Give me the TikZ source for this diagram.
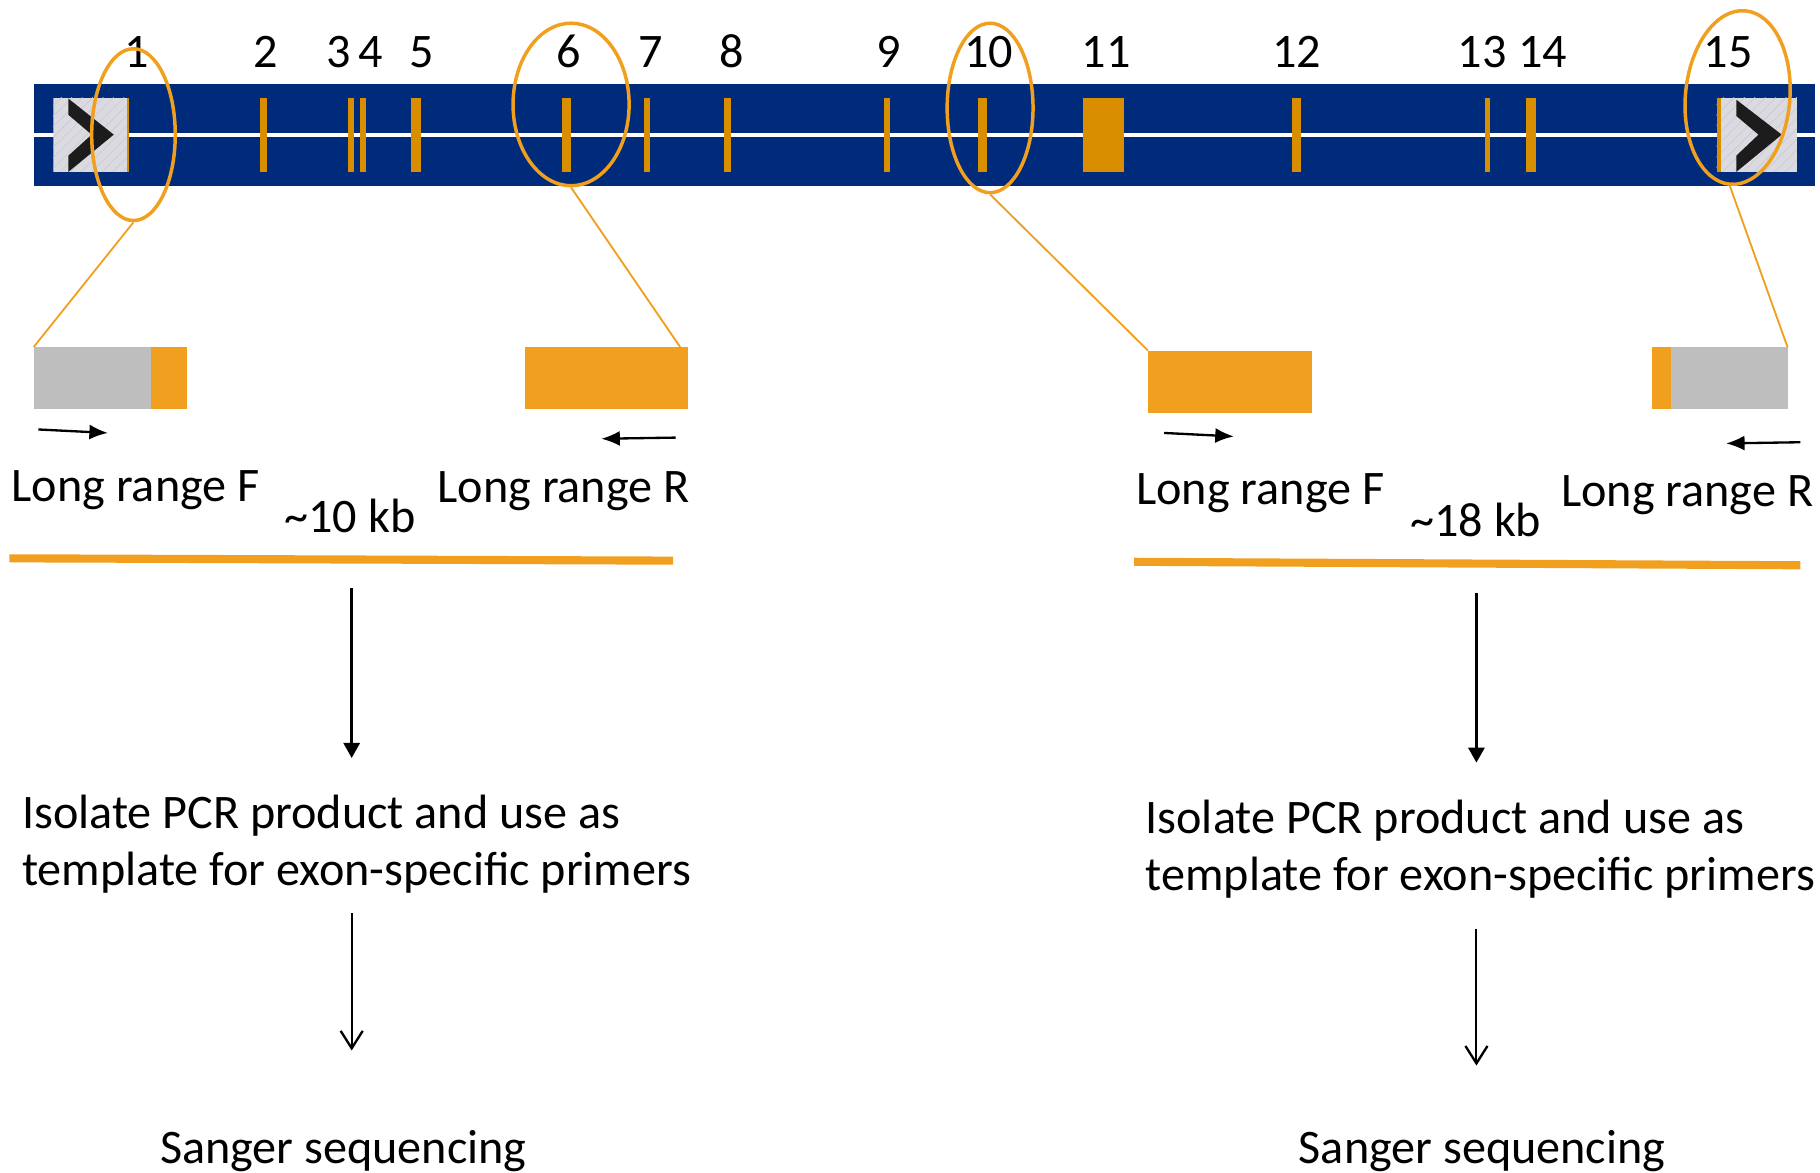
\documentclass[tikz,border=0pt]{standalone}
\usepackage{fontspec}
\setmainfont{Carlito}
\usetikzlibrary{shapes.geometric,arrows.meta}

\definecolor{barblue}{RGB}{0,42,122}
\definecolor{exonorange}{RGB}{217,142,0}
\definecolor{boxorange}{RGB}{240,160,30}
\definecolor{boxgrey}{RGB}{190,190,190}
\definecolor{icongrey}{RGB}{218,218,224}
\definecolor{hatchgrey}{RGB}{206,206,214}
\definecolor{chevronblack}{RGB}{28,28,28}

\begin{document}
\begin{tikzpicture}[x=1pt,y=-1pt,
  lbl/.style={font=\fontsize{41.5}{49}\selectfont, inner sep=0pt, outer sep=0pt},
  exonnum/.style={lbl, anchor=base},
  txt/.style={lbl, anchor=base west},
  zoomring/.style={draw=boxorange, line width=3pt, ellipse, inner sep=0pt},
  guide/.style={draw=boxorange, line width=1.6pt},
  primerarrow/.style={-{Latex[length=16pt,width=13pt]}, line width=2pt},
  productline/.style={draw=boxorange, line width=7pt},
  flowarrow/.style={-{Triangle[length=13pt,width=14pt]}, line width=2.2pt},
  openarrow/.style={-{Straight Barb[length=15pt,width=19pt,line width=2pt]}, line width=1.8pt},
  segbox/.style={draw=none, inner sep=0pt, outer sep=0pt, anchor=north west},
]
\useasboundingbox (0,0) rectangle (1568,1010);

% ---- gene bar ----
\fill[barblue] (29,72) rectangle (1564,160);
\draw[white, line width=3.5pt] (29,116) -- (1564,116);

% exons
\foreach \a/\b in {224/230, 300/305, 310/315, 354/363, 484/492, 555/560,
                   624/630, 762/767, 843/850, 933/968, 1113/1121, 1279/1284, 1315/1323}
  \fill[exonorange] (\a,84) rectangle (\b,148);

% end markers with direction chevrons (light diagonal texture)
\begin{scope}
  \clip (46,84) rectangle (111,148);
  \fill[icongrey] (46,84) rectangle (111,148);
  \foreach \s in {-20,-11,...,120}
    \draw[hatchgrey, line width=0.8pt] (\s,148) -- ++(64,-64);
\end{scope}
\fill[exonorange] (109,84) rectangle (111,148);
\fill[chevronblack] (59,85) -- (98,116) -- (59,148) -- (59,134) -- (79,116) -- (59,99) -- cycle;

\begin{scope}
  \clip (1479,84) rectangle (1548,148);
  \fill[icongrey] (1479,84) rectangle (1548,148);
  \foreach \s in {1412,1421,...,1552}
    \draw[hatchgrey, line width=0.8pt] (\s,148) -- ++(64,-64);
\end{scope}
\fill[exonorange] (1479,84) rectangle (1483,148);
\fill[chevronblack] (1496,86) -- (1535,116) -- (1496,148) -- (1496,134) -- (1515,116) -- (1496,100) -- cycle;

% exon numbers
\foreach \x/\n in {118/1, 229/2, 292/3, 319/4, 363/5, 490/6, 561/7, 630/8, 766/9,
                   852/10, 953/11, 1117/12, 1277/13, 1329/14, 1489/15}
  \node[exonnum] (num\n) at (\x,58) {\n};

% highlighted exons
\node[zoomring, minimum width=72pt, minimum height=148pt] (e1) at (115,116) {};
\node[zoomring, minimum width=100pt, minimum height=140pt] (e6) at (492,90) {};
\node[zoomring, minimum width=74pt, minimum height=146pt] (e10) at (853,93) {};
\node[zoomring, minimum width=90pt, minimum height=150pt, rotate=-5] (e15) at (1497,84) {};

% ---- enlarged segments ----
\node[segbox, fill=boxgrey, minimum width=101pt, minimum height=53pt] (ga) at (29,299) {};
\node[segbox, fill=boxorange, minimum width=31pt, minimum height=53pt] (oa) at (130,299) {};
\node[segbox, fill=boxorange, minimum width=141pt, minimum height=53pt] (ob) at (452,299) {};
\node[segbox, fill=boxorange, minimum width=141pt, minimum height=54pt] (oc) at (989,302) {};
\node[segbox, fill=boxorange, minimum width=17pt, minimum height=53pt] (od) at (1423,299) {};
\node[segbox, fill=boxgrey, minimum width=100pt, minimum height=53pt] (gd) at (1440,299) {};

\draw[guide] (e1.south) -- (ga.north west);
\draw[guide] (e6.south) -- ([xshift=-7pt]ob.north east);
\draw[guide] (e10.south) -- (oc.north west);
\draw[guide] (e15.south) -- (gd.north east);

% primers
\coordinate (pf1s) at (33,370);  \coordinate (pf1e) at (93,373);
\coordinate (pr1s) at (582,377); \coordinate (pr1e) at (518,378);
\coordinate (pf2s) at (1003,373); \coordinate (pf2e) at (1063,376);
\coordinate (pr2s) at (1551,381); \coordinate (pr2e) at (1487,382);
\draw[primerarrow] (pf1s) -- (pf1e);
\draw[primerarrow] (pr1s) -- (pr1e);
\draw[primerarrow] (pf2s) -- (pf2e);
\draw[primerarrow] (pr2s) -- (pr2e);

\node[txt] (lrf1) at (10,432) {Long range F};
\node[txt] (lrr1) at (377,433) {Long range R};
\node[txt] (kb1) at (245,459) {\textasciitilde 10 kb};
\node[txt] (lrf2) at (979,435) {Long range F};
\node[txt] (lrr2) at (1345,436) {Long range R};
\node[txt] (kb2) at (1215,462) {\textasciitilde 18 kb};

% long-range products
\coordinate (p1a) at (8,481);   \coordinate (p1b) at (580,483);
\coordinate (p2a) at (977,484); \coordinate (p2b) at (1551,487);
\draw[productline] (p1a) -- (p1b);
\draw[productline] (p2a) -- (p2b);

% ---- workflow ----
\node[txt] (iso1a) at (19,714) {Isolate PCR product and use as};
\node[txt] (iso1b) at (19,763) {template for exon-specific primers};
\node[txt] (iso2a) at (987,718) {Isolate PCR product and use as};
\node[txt] (iso2b) at (987,767) {template for exon-specific primers};
\node[txt] (seq1) at (138,1002) {Sanger sequencing};
\node[txt] (seq2) at (1119,1002) {Sanger sequencing};

\coordinate (d1a) at (303,507); \coordinate (d1b) at (303,653);
\coordinate (d2a) at (303,787); \coordinate (d2b) at (303,905);
\coordinate (d3a) at (1272,511); \coordinate (d3b) at (1272,657);
\coordinate (d4a) at (1272,800); \coordinate (d4b) at (1272,918);
\draw[flowarrow] (d1a) -- (d1b);
\draw[openarrow] (d2a) -- (d2b);
\draw[flowarrow] (d3a) -- (d3b);
\draw[openarrow] (d4a) -- (d4b);
\end{tikzpicture}
\end{document}
